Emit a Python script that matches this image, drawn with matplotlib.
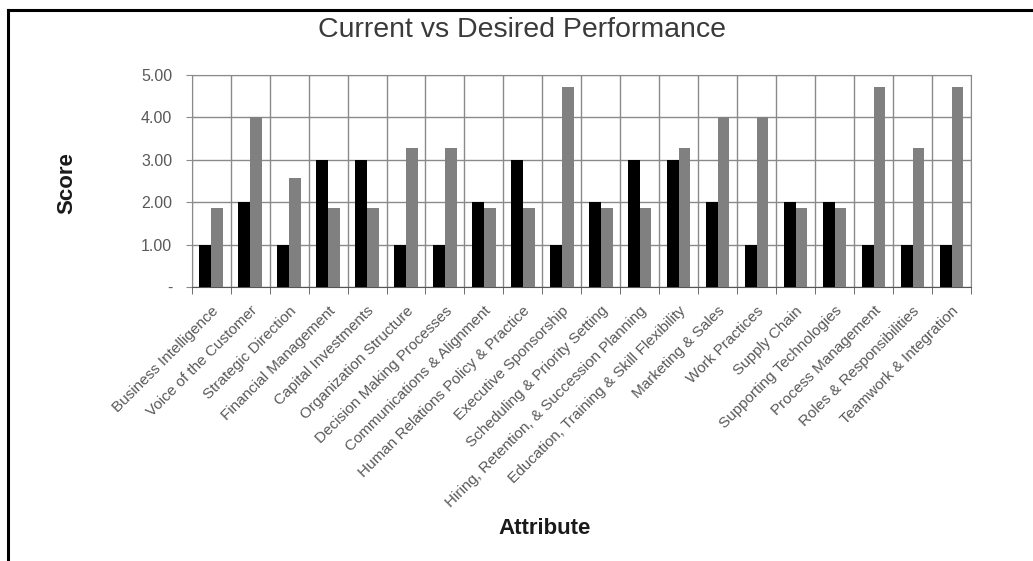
import matplotlib.pyplot as plt
from matplotlib.lines import Line2D
import numpy as np

plt.rcParams['font.family'] = ['Liberation Sans', 'DejaVu Sans']

attributes = [
    'Business Intelligence', 'Voice of the Customer', 'Strategic Direction',
    'Financial Management', 'Capital Investments', 'Organization Structure',
    'Decision Making Processes', 'Communications & Alignment',
    'Human Relations Policy & Practice', 'Executive Sponsorship',
    'Scheduling & Priority Setting', 'Hiring, Retention, & Succession Planning',
    'Education, Training & Skill Flexibility', 'Marketing & Sales',
    'Work Practices', 'Supply Chain', 'Supporting Technologies',
    'Process Management', 'Roles & Responsibilities', 'Teamwork & Integration',
]
current = [1, 2, 1, 3, 3, 1, 1, 2, 3, 1, 2, 3, 3, 2, 1, 2, 2, 1, 1, 1]
desired = [1.86, 4.00, 2.57, 1.86, 1.86, 3.29, 3.29, 1.86, 1.86, 4.71,
           1.86, 1.86, 3.29, 4.00, 4.00, 1.86, 1.86, 4.71, 3.29, 4.71]
y_ticks = [0, 1, 2, 3, 4, 5]
y_labels = ['-', '1.00', '2.00', '3.00', '4.00', '5.00']

W, H = 1033, 561
fig = plt.figure(figsize=(W / 100, H / 100), dpi=100)
ax = fig.add_axes([191.7 / W, 1 - 287 / H, (971 - 191.7) / W, (287 - 75) / H])

x = np.arange(len(attributes))
bw = 0.3
grid_c = '#8a8a8a'

ax.bar(x - bw / 2, current, width=bw, color='black', zorder=3)
ax.bar(x + bw / 2, desired, width=bw, color='#808080', zorder=3)

ax.set_xlim(-0.5, len(attributes) - 0.5)
ax.set_ylim(0, 5)

# y axis
ax.set_yticks(y_ticks)
ax.set_yticklabels(y_labels, color='#595959', fontsize=11.5)
ax.tick_params(axis='y', length=4, color=grid_c, pad=10)

# category labels at centres, boundaries as minor ticks
ax.set_xticks(x)
ax.set_xticklabels(attributes, rotation=45, ha='right', va='top',
                   rotation_mode='anchor', color='#595959', fontsize=11)
ax.tick_params(axis='x', which='major', length=0, pad=12)
ax.set_xticks(np.arange(-0.5, len(attributes)), minor=True)
ax.tick_params(axis='x', which='minor', length=5, color='#555555', direction='out')

ax.grid(True, axis='y', which='major', color=grid_c, linewidth=1, zorder=0)
ax.grid(True, axis='x', which='minor', color=grid_c, linewidth=1, zorder=0)
ax.set_axisbelow(True)

for side in ['top', 'right', 'left']:
    ax.spines[side].set_color(grid_c)
ax.spines['bottom'].set_color('#555555')

fig.text(522 / W, 1 - 30 / H, 'Current vs Desired Performance',
         ha='center', va='center', fontsize=20.5, color='#3a3a3a')
fig.text(67 / W, 1 - 183 / H, 'Score', rotation=90, ha='center', va='center',
         fontsize=16, fontweight='bold', color='#1a1a1a')
fig.text(545 / W, 1 - 528 / H, 'Attribute', ha='center', va='center',
         fontsize=16, fontweight='bold', color='#1a1a1a')

# outer frame (left and top edges)
fig.add_artist(Line2D([8 / W, 8 / W], [0, 1 - 10 / H], color='black', linewidth=2.2))
fig.add_artist(Line2D([8 / W, 1], [1 - 10 / H, 1 - 10 / H], color='black', linewidth=2.2))

fig.savefig('out.png', dpi=100)
